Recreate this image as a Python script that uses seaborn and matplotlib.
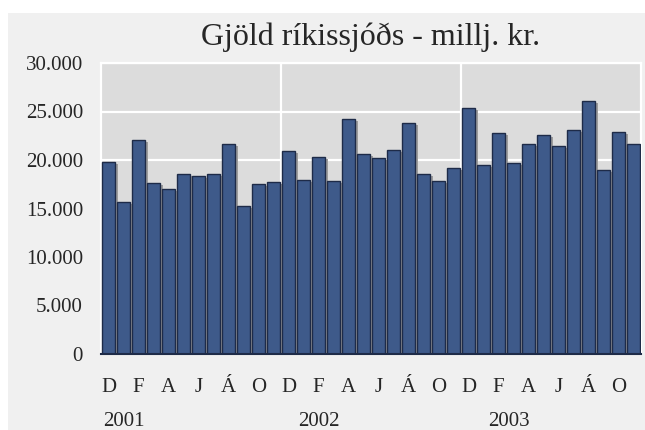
import matplotlib
matplotlib.use("Agg")
import matplotlib.pyplot as plt
import matplotlib.transforms as mtransforms
from matplotlib.patches import Rectangle
import seaborn as sns
import pandas as pd

# ---- data ----
years = ["2001", "2002", "2003"]
months = ["D", "J", "F", "M", "A", "M", "J", "J", "Á", "S", "O", "N"]
values_2001 = [19800, 15700, 22100, 17600, 17000, 18600, 18400, 18600, 21600, 15300, 17500, 17700]
values_2002 = [20900, 17900, 20300, 17800, 24200, 20600, 20200, 21000, 23800, 18600, 17800, 19200]
values_2003 = [25400, 19500, 22800, 19700, 21700, 22600, 21400, 23100, 26100, 19000, 22900, 21600]
y_ticks = [0, 5000, 10000, 15000, 20000, 25000, 30000]
y_tick_labels = ["0", "5.000", "10.000", "15.000", "20.000", "25.000", "30.000"]
title = "Gjöld ríkissjóðs - millj. kr."

rows = []
for y, vals in zip(years, [values_2001, values_2002, values_2003]):
    for i, (m, v) in enumerate(zip(months, vals)):
        rows.append({"period": f"{y}-{i:02d}", "month": m, "year": y, "value": v})
df = pd.DataFrame(rows)
order = list(df["period"])

# ---- style ----
sns.set_style("white")
plt.rcParams["font.family"] = ["Liberation Serif", "DejaVu Serif"]

fig = plt.figure(figsize=(6.45, 4.30), dpi=100)
fig.patch.set_facecolor("white")
fig.patches.append(Rectangle((8 / 645, 0), 1, 1 - 13 / 430, transform=fig.transFigure,
                             facecolor="#f0f0f0", edgecolor="none", zorder=-10))
ax = fig.add_axes([101 / 645, 1 - 354 / 430, 540 / 645, 291 / 430])
ax.set_facecolor("#dcdcdc")

# shadow bars
sns.barplot(data=df, x="period", y="value", order=order, color="#9c9c9c",
            width=0.86, saturation=1, ax=ax, zorder=2, linewidth=0)
shadow_patches = list(ax.patches)
offset = mtransforms.ScaledTranslation(3 / 100, -2 / 100, fig.dpi_scale_trans)
for p in shadow_patches:
    p.set_transform(ax.transData + offset)

# main bars
sns.barplot(data=df, x="period", y="value", order=order, color="#3e5a8a",
            width=0.86, saturation=1, ax=ax, zorder=3,
            edgecolor="#1e2b48", linewidth=1.0)

ax.set_ylim(0, 30000)
ax.set_xlim(-0.5, len(order) - 0.5)
ax.set_yticks(y_ticks)
ax.set_yticklabels(y_tick_labels)
ax.yaxis.grid(True, color="white", linewidth=1.6, zorder=1)
ax.set_axisbelow(True)
for xv in [11.5, 23.5]:
    ax.axvline(xv, color="white", linewidth=1.6, zorder=1)

xt = [i for i in range(len(order)) if i % 2 == 0]
ax.set_xticks(xt)
ax.set_xticklabels([df["month"][i] for i in xt])
ax.tick_params(axis="x", length=0, pad=17, labelsize=15)
ax.tick_params(axis="y", length=0, pad=13, labelsize=15)
ax.set_xlabel("")
ax.set_ylabel("")

for s in ["top", "left", "right"]:
    ax.spines[s].set_color("white")
    ax.spines[s].set_linewidth(1.6)
ax.spines["bottom"].set_color("#1e2b48")
ax.spines["bottom"].set_linewidth(1.5)
ax.spines["bottom"].set_zorder(5)

trans = mtransforms.blended_transform_factory(ax.transData, ax.transAxes)
for xpos, y in zip([1.0, 14.0, 26.7], years):
    ax.text(xpos, -68 / 291, y, transform=trans, ha="center", va="center", fontsize=15)

fig.text(371 / 645, 1 - 37 / 430, title, ha="center", va="center", fontsize=23)

fig.savefig("out.png", dpi=100, facecolor=fig.get_facecolor())
